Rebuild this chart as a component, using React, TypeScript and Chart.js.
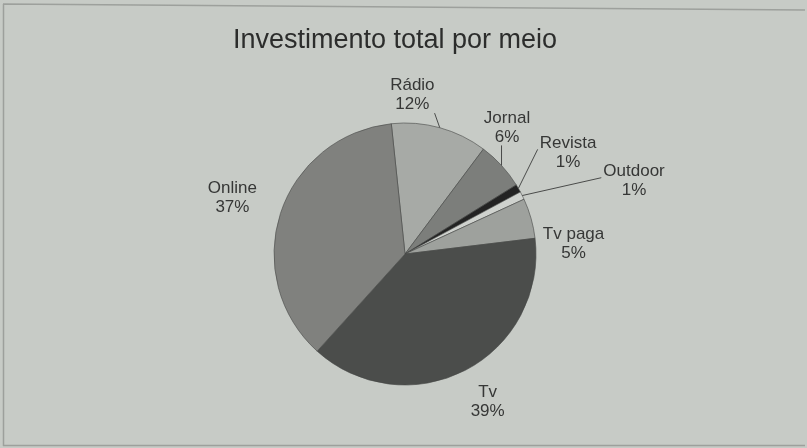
import React, { useEffect, useRef } from "react";
import { Chart, registerables } from "chart.js";

Chart.register(...registerables);

const TITLE = "Investimento total por meio";
const categories = ["Rádio", "Jornal", "Revista", "Outdoor", "Tv paga", "Tv", "Online"];
const percentages = [12, 6, 1, 1, 5, 39, 37];
const sliceColors = ["#a7aaa6", "#7c7e7b", "#232323", "#cfd2ce", "#9ea19d", "#4b4d4b", "#80817e"];

// label layout (style): offsets from the default outside anchor, and which labels get leader lines
const labelOffsets = [
  [-38, 6],
  [-24, -11],
  [15, -16],
  [76, 3],
  [4, 36],
  [4, -4],
  [-10, -3],
];
const leaderFlags = [true, true, true, true, false, false, false];

const FONT = "'Liberation Sans', Arial, sans-serif";

const bgPlugin = {
  id: "bgPlugin",
  beforeDraw(chart: any) {
    const { ctx, width, height } = chart;
    ctx.save();
    ctx.fillStyle = "#c7cbc6";
    ctx.fillRect(0, 0, width, height);
    ctx.strokeStyle = "#9da09c";
    ctx.lineWidth = 1.5;
    ctx.beginPath();
    ctx.moveTo(3, 4);
    ctx.lineTo(width - 2, 10);
    ctx.moveTo(3.5, 4);
    ctx.lineTo(3.5, height - 2);
    ctx.moveTo(3, height - 2.5);
    ctx.lineTo(width - 2, height - 2.5);
    ctx.stroke();
    ctx.restore();
  },
};

const labelPlugin = {
  id: "labelPlugin",
  afterDraw(chart: any) {
    const { ctx } = chart;
    ctx.save();
    // title
    ctx.font = `27px ${FONT}`;
    ctx.fillStyle = "#2c2d2c";
    ctx.textAlign = "center";
    ctx.textBaseline = "middle";
    ctx.fillText(TITLE, 395, 41);

    const meta = chart.getDatasetMeta(0);
    const lineH = 19;
    ctx.font = `17px ${FONT}`;
    meta.data.forEach((arc: any, i: number) => {
      const { x, y, startAngle, endAngle, outerRadius } = arc;
      const mid = (startAngle + endAngle) / 2;
      const cx = Math.cos(mid);
      const cy = Math.sin(mid);
      const lx = x + cx * (outerRadius + 40) + labelOffsets[i][0];
      const ly = y + cy * (outerRadius + 40) + labelOffsets[i][1];
      const l1 = categories[i];
      const l2 = `${percentages[i]}%`;
      const w = Math.max(ctx.measureText(l1).width, ctx.measureText(l2).width);
      const left = lx - w / 2;
      const right = lx + w / 2;
      const bottom = ly + lineH - 2;
      if (leaderFlags[i]) {
        const ex = x + cx * outerRadius;
        const ey = y + cy * outerRadius;
        let tx: number, ty: number;
        if (ex >= left - 2 && ex <= right + 8 && ey > bottom) {
          tx = Math.min(Math.max(ex, left), right);
          ty = bottom + 1;
        } else if (ex < left) {
          tx = left - 2;
          ty = ly - 3;
        } else {
          tx = right + 2;
          ty = ly - 3;
        }
        ctx.strokeStyle = "#4a4b4a";
        ctx.lineWidth = 1;
        ctx.beginPath();
        ctx.moveTo(ex, ey);
        ctx.lineTo(tx, ty);
        ctx.stroke();
      }
      ctx.fillStyle = "#363736";
      ctx.textAlign = "center";
      ctx.textBaseline = "middle";
      ctx.fillText(l1, lx, ly - lineH / 2);
      ctx.fillText(l2, lx, ly + lineH / 2);
    });
    ctx.restore();
  },
};

export default function App() {
  const ref = useRef<HTMLCanvasElement | null>(null);
  useEffect(() => {
    document.body.style.margin = "0";
    const canvas = ref.current!;
    const chart = new Chart(canvas, {
      type: "pie",
      data: {
        labels: categories,
        datasets: [
          {
            data: percentages,
            backgroundColor: sliceColors,
            borderColor: "rgba(70,72,70,0.6)",
            borderWidth: 1,
          },
        ],
      },
      options: {
        responsive: false,
        animation: false,
        rotation: -6,
        layout: { padding: { top: 122.5, bottom: 62.5, left: 3, right: 0 } },
        plugins: {
          legend: { display: false },
          title: { display: false },
          tooltip: { enabled: false },
        },
      },
      plugins: [bgPlugin, labelPlugin],
    });
    return () => chart.destroy();
  }, []);
  return <canvas ref={ref} width={807} height={448} style={{ display: "block" }} />;
}
